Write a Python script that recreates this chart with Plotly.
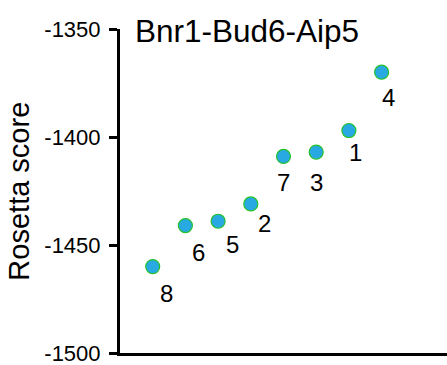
import plotly.graph_objects as go

labels = ["8", "6", "5", "2", "7", "3", "1", "4"]
positions = [1, 2, 3, 4, 5, 6, 7, 8]
scores = [-1460, -1441, -1439, -1431, -1409, -1407, -1397, -1370]
label_dx = [14, 13, 14, 14, 0, 0, 7, 7]
label_dy = [27, 27, 23, 20, 26, 30, 22, 25]
y_ticks = [-1500, -1450, -1400, -1350]

FONT = "Arial, Liberation Sans, Helvetica, sans-serif"

fig = go.Figure()
fig.add_trace(go.Scatter(
    x=positions, y=scores, mode="markers",
    marker=dict(size=14, color="#29A9E1", line=dict(color="#22C22A", width=1.2)),
    showlegend=False, hoverinfo="skip",
))

for x, y, t, dx, dy in zip(positions, scores, labels, label_dx, label_dy):
    fig.add_annotation(x=x, y=y, text=t, showarrow=False, xshift=dx, yshift=-dy,
                       font=dict(family=FONT, size=24, color="black"),
                       xanchor="center", yanchor="middle")

fig.add_annotation(xref="paper", yref="paper", x=-0.31, y=0.5, text="Rosetta score",
                   textangle=-90, showarrow=False, xanchor="center", yanchor="middle",
                   font=dict(family=FONT, size=29, color="black"))

fig.update_layout(
    width=447, height=365,
    margin=dict(l=120, r=0, t=29, b=12),
    paper_bgcolor="white", plot_bgcolor="white",
    title=dict(text="Bnr1-Bud6-Aip5", x=(135 - 120) / 327, xref="paper", xanchor="left",
               y=1 - 31 / 365, yref="container", yanchor="middle",
               font=dict(family=FONT, size=31.5, color="black")),
    xaxis=dict(range=[0, 10], showticklabels=False, ticks="", showgrid=False, zeroline=False,
               showline=True, linecolor="black", linewidth=3),
    yaxis=dict(range=[-1500, -1350], tickvals=y_ticks, ticktext=[str(v) for v in y_ticks],
               ticks="outside", ticklen=8, tickwidth=3, tickcolor="black",
               showgrid=False, zeroline=False, showline=True, linecolor="black", linewidth=3,
               tickfont=dict(family=FONT, size=22, color="black"), ticklabelstandoff=4,
               ticklabeloverflow="allow"),
)

fig.write_html("out.html")
